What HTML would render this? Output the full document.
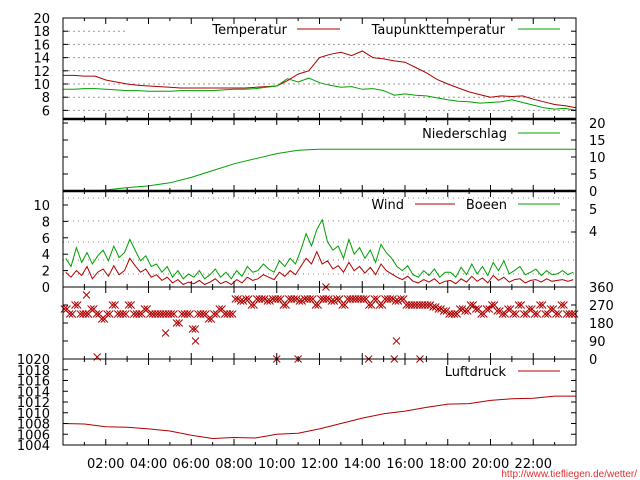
<!DOCTYPE html>
<html><head><meta charset="utf-8"><style>
html,body{margin:0;padding:0;background:#fff;}
svg{display:block;font-family:"DejaVu Sans","Liberation Sans",sans-serif;}
</style></head><body>
<svg id="chart" width="640" height="480" viewBox="0 0 640 480" xmlns="http://www.w3.org/2000/svg">
<rect x="0" y="0" width="640" height="480" fill="#fff"/>
<g id="grid"></g><g id="series"></g><g id="frame"></g><g id="labels" font-size="13" fill="#000"></g>
</svg>
<script>
// ---- data ----
const tempHours=[0,0.5,1,1.5,2,2.5,3,3.5,4,4.5,5,5.5,6,6.5,7,7.5,8,8.5,9,9.5,10,10.5,11,11.5,12,12.5,13,13.5,14,14.5,15,15.5,16,16.5,17,17.5,18,18.5,19,19.5,20,20.5,21,21.5,22,22.5,23,23.5,24];
const temperature=[11.3,11.3,11.2,11.2,10.6,10.3,10,9.8,9.7,9.6,9.5,9.4,9.4,9.4,9.4,9.4,9.4,9.4,9.5,9.6,9.7,10.5,11.5,12,14,14.5,14.8,14.3,15,14,13.8,13.5,13.3,12.5,11.7,10.7,10,9.4,8.8,8.4,8,8.2,8.1,8.2,7.7,7.3,6.9,6.7,6.4];
const dewpoint=[9.2,9.2,9.3,9.3,9.2,9.1,9,9,8.9,8.9,8.9,9,9,9,9,9.1,9.2,9.2,9.3,9.5,9.7,10.8,10.3,10.9,10.2,9.8,9.5,9.6,9.2,9.3,9,8.3,8.5,8.3,8.2,7.9,7.6,7.4,7.3,7.1,7.2,7.3,7.6,7.2,6.8,6.4,6.2,6.3,6.0];
const precipHours=[1.5,2,3,4,5,6,7,8,9,10,11,12,24];
const precipitation=[0,0.3,1.0,1.5,2.4,4,6,8,9.5,11,12,12.3,12.3];
const wind=[1.8,1.2,2.0,1.4,2.5,1.0,1.8,2.2,1.3,2.6,1.5,2.0,3.5,2.6,1.8,2.2,1.2,1.5,0.8,1.2,0.5,0.9,0.3,0.6,0.4,0.8,0.3,0.6,1.0,0.4,0.7,0.3,0.9,0.5,1.2,0.8,1.0,1.5,1.2,0.9,1.8,1.3,2.0,1.5,2.5,3.5,2.8,4.3,2.8,3.2,2.2,2.6,1.8,3.0,2.0,2.5,1.7,2.4,1.5,2.8,2.0,1.6,1.2,0.9,1.3,0.7,0.5,0.9,0.6,1.0,0.4,0.7,0.8,0.4,1.0,0.6,1.3,0.7,1.1,0.5,1.4,0.8,1.2,0.6,0.9,1.0,0.5,0.8,0.9,0.6,1.0,0.7,0.8,0.9,0.7,0.9];
const gusts=[3.5,2.5,4.8,3.0,4.2,2.8,3.8,4.5,3.2,5.0,3.6,4.2,5.8,4.5,3.2,3.8,2.5,2.8,1.8,2.5,1.2,2.0,1.0,1.6,1.2,2.0,1.0,1.5,2.2,1.2,1.8,1.0,2.0,1.3,2.5,1.8,2.0,2.8,2.2,1.8,3.2,2.5,3.5,2.8,4.5,6.5,5.0,7.0,8.2,5.5,4.5,5.0,3.5,5.8,4.0,4.8,3.5,4.5,3.0,5.2,4.2,3.5,2.5,2.0,2.6,1.5,1.2,2.0,1.4,2.2,1.2,1.8,1.8,1.2,2.4,1.5,2.8,1.6,2.5,1.4,3.0,2.0,3.2,1.6,2.0,2.5,1.5,1.8,2.2,1.4,2.0,1.5,1.6,2.0,1.5,1.8];
const direction=[250,225,270,225,225,250,225,200,225,270,225,225,270,225,225,250,225,225,225,225,225,180,225,225,150,225,225,200,225,250,225,225,300,290,300,270,300,300,290,300,300,270,300,300,290,300,300,270,300,300,290,300,270,300,300,300,300,270,300,270,300,300,290,300,270,270,270,270,270,260,250,240,225,225,250,240,270,250,225,250,270,240,225,250,225,270,225,250,225,270,225,250,225,270,225,225];
const dirOutlierHours=[1.6,1.1,4.8,6.2,10,11,14.3,15.5,16.7,15.6,12.3];
const dirOutliers=[10,320,130,90,0,0,0,0,0,90,360];
const pressHours=[0,1,2,3,4,5,6,7,8,9,10,11,12,13,14,15,16,17,18,19,20,21,22,23,24];
const pressure=[1008,1007.9,1007.4,1007.3,1007,1006.6,1005.8,1005.2,1005.4,1005.3,1006,1006.2,1007,1008,1009,1009.8,1010.3,1011,1011.6,1011.7,1012.3,1012.6,1012.7,1013.1,1013.1];
const xTickLabels=["02:00","04:00","06:00","08:00","10:00","12:00","14:00","16:00","18:00","20:00","22:00"];
const tempTicks=[20,18,16,14,12,10,8,6];
const windTicks=[10,8,6,4,2,0];
const precipTicks=[20,15,10,5,0];
const dirTicks=[360,270,180,90,0];
const pressTicks=[1020,1018,1016,1014,1012,1010,1008,1006,1004];

// ---- axes ----
const X0=63,X1=576;
const x=h=>X0+(X1-X0)*h/24;
const yT=v=>18+(20-v)*6.6;
const yP=v=>191-v*3.4;
const yW=v=>287-v*8.2;
const yD=v=>359-v*0.2;
const yL=v=>359+(1020-v)*5.375;
const NS="http://www.w3.org/2000/svg";
function el(tag,attrs,parent){const e=document.createElementNS(NS,tag);for(const k in attrs)e.setAttribute(k,attrs[k]);document.getElementById(parent).appendChild(e);return e;}
function poly(xs,ys,color,name){const pts=xs.map((h,i)=>x(h).toFixed(1)+","+ys[i].toFixed(1)).join(" ");const p=el("polyline",{points:pts,fill:"none",stroke:color,"stroke-width":1},"series");return p;}
function text(s,tx,ty,anchor,name,extra){const t=el("text",Object.assign({x:tx,y:ty,"text-anchor":anchor||"start"},extra||{}),"labels");t.textContent=s;return t;}
function hline(y,x1,x2,color,dash,name){const l=el("line",{x1:x1,x2:x2,y1:y,y2:y,stroke:color,"stroke-width":1,"stroke-dasharray":dash},"grid");}
const RED="#b00000",GREEN="#00a000";

// grid
tempTicks.slice(1).forEach(v=>{hline(yT(v),X0,v===18?125:X1,"#999","2,3",'temp-gridline');});
[198,221,242,260,274].forEach(y=>hline(y,X0,X1,"#888","1,4",'wind-gridline'));

// series
const qh=wind.map((_,i)=>i*0.25+0.125);
poly(tempHours,temperature.map(yT),RED,'temperature-line');
poly(tempHours,dewpoint.map(yT),GREEN,'dewpoint-line');
poly(precipHours,precipitation.map(yP),GREEN,'precipitation-line');
poly(qh,gusts.map(yW),GREEN,'gust-line');
poly(qh,wind.map(yW),RED,'wind-line');
poly(pressHours,pressure.map(yL),RED,'pressure-line');
function cross(h,d,color){const cx=x(h),cy=yD(d),s=3.5;const p=el("path",{d:`M${cx-s},${cy-s}L${cx+s},${cy+s}M${cx-s},${cy+s}L${cx+s},${cy-s}`,stroke:color,"stroke-width":1,fill:"none"},"series");}
direction.forEach((d,i)=>{cross(qh[i]-0.0625,d,RED);cross(qh[i]+0.0625,d,RED);});
dirOutlierHours.forEach((h,i)=>cross(h,dirOutliers[i],RED));

// frame
const panels=[[18,119],[119,191],[191,287],[287,359],[359,445]];
panels.forEach(([a,b])=>{
  const r=el("rect",{x:X0,y:a,width:X1-X0,height:b-a,fill:"none",stroke:"#000","stroke-width":1},"frame");
  
  for(let h=1;h<24;h++){const len=h%2===0?6:3;
    el("line",{x1:x(h),x2:x(h),y1:a,y2:a+len,stroke:"#000"},"frame");
    el("line",{x1:x(h),x2:x(h),y1:b,y2:b-len,stroke:"#000"},"frame");}
});
[119,191].forEach(y=>el("line",{x1:X0,x2:X1,y1:y,y2:y,stroke:"#000","stroke-width":2.5},"frame"));
// y ticks
tempTicks.forEach(v=>{el("line",{x1:X0,x2:X0+5,y1:yT(v),y2:yT(v),stroke:"#000"},"frame");el("line",{x1:X1,x2:X1-5,y1:yT(v),y2:yT(v),stroke:"#000"},"frame");text(String(v),50,yT(v)+5,"end",'temp-tick-label');});
precipTicks.forEach(v=>{el("line",{x1:X0,x2:X0+5,y1:yP(v),y2:yP(v),stroke:"#000"},"frame");el("line",{x1:X1,x2:X1-5,y1:yP(v),y2:yP(v),stroke:"#000"},"frame");text(String(v),589,yP(v)+5,"start",'precip-tick-label');});
windTicks.forEach(v=>{el("line",{x1:X0,x2:X0+5,y1:yW(v),y2:yW(v),stroke:"#000"},"frame");text(String(v),50,yW(v)+5,"end",'wind-tick-label');});
[[5,214],[4,236]].forEach(([s,y])=>{el("line",{x1:X1,x2:X1-5,y1:y-4,y2:y-4,stroke:"#000"},"frame");text(String(s),589,y,"start",'beaufort-tick-label');});
dirTicks.forEach(v=>{el("line",{x1:X0,x2:X0+5,y1:yD(v),y2:yD(v),stroke:"#000"},"frame");el("line",{x1:X1,x2:X1-5,y1:yD(v),y2:yD(v),stroke:"#000"},"frame");text(String(v),589,yD(v)+5,"start",'direction-tick-label');});
pressTicks.forEach(v=>{el("line",{x1:X0,x2:X0+5,y1:yL(v),y2:yL(v),stroke:"#000"},"frame");el("line",{x1:X1,x2:X1-5,y1:yL(v),y2:yL(v),stroke:"#000"},"frame");text(String(v),50,yL(v)+5,"end",'pressure-tick-label');});
xTickLabels.forEach((s,i)=>text(s,x((i+1)*2),468,"middle",'x-tick-label'));
// legends
function legend(label,tx,ty,x1,x2,color,name){text(label,tx,ty,"end",name+'-legend-label');const l=el("line",{x1:x1,x2:x2,y1:ty-5,y2:ty-5,stroke:color},"labels");}
legend("Temperatur",287,34,297,340,RED,'temperature');
legend("Taupunkttemperatur",505,34,518,560,GREEN,'dewpoint');
legend("Niederschlag",507,138,518,560,GREEN,'precipitation');
legend("Wind",404,209,415,455,RED,'wind');
legend("Boeen",507,209,518,560,GREEN,'gusts');
legend("Luftdruck",506,376,518,560,RED,'pressure');
text("http://www.tiefliegen.de/wetter/",637,477,"end",'source-url',{fill:"#e03030","font-size":"10","font-family":"Liberation Sans, sans-serif"});
</script>
</body></html>
